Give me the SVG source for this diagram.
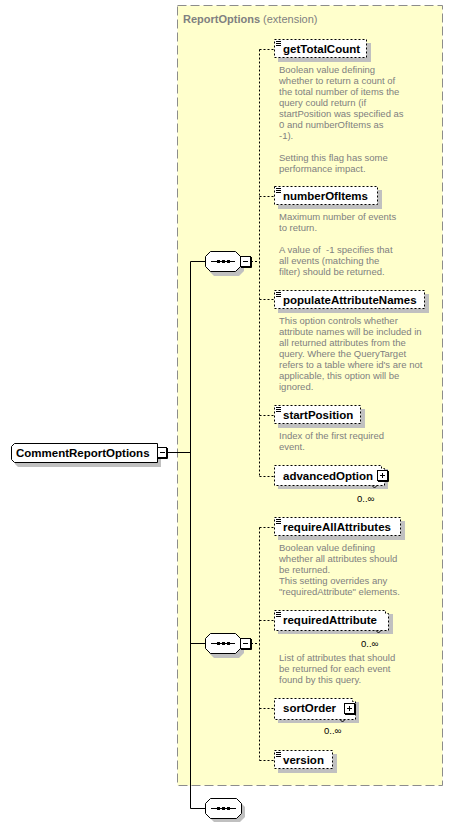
<svg xmlns="http://www.w3.org/2000/svg" width="453" height="828" viewBox="0 0 453 828">
<style>
.name{font-family:"Liberation Sans",Arial,sans-serif;font-weight:bold;font-size:11.5px;fill:#000}
.desc{font-family:"Liberation Sans",Arial,sans-serif;font-size:9.5px;fill:#808080}
.occ{font-family:"Liberation Sans",Arial,sans-serif;font-size:9.5px;fill:#000}
.box{fill:#fff;stroke:#000;stroke-width:1;stroke-dasharray:2,2}
.sbox{fill:#fff;stroke:#000;stroke-width:1}
.shadow{fill:#c0c0c0;stroke:none}
.dash{fill:none;stroke:#000;stroke-width:1;stroke-dasharray:2,2}
.solid{fill:none;stroke:#000;stroke-width:1}
.icon{stroke:#000;stroke-width:1}
</style>
<rect x="177.5" y="5.5" width="265" height="780" fill="#ffffcc" stroke="#8c8c8c" stroke-width="1" stroke-dasharray="9,4"/>
<text x="183" y="23" font-family="Liberation Sans,Arial,sans-serif" font-size="11px" fill="#808080"><tspan font-weight="bold">ReportOptions</tspan> (extension)</text>

<g id="connectors">
<path class="solid" d="M167,452.5 H190.5 M190.5,261.5 V808.5 M190.5,261.5 H205 M190.5,643.5 H205 M190.5,808.5 H205"/>
<path class="dash" d="M251,261.5 H259.5 M259.5,49.5 V476.5 M259.5,49.5 H274 M259.5,196.5 H274 M259.5,299.5 H274 M259.5,415.5 H274 M259.5,476.5 H274"/>
<path class="dash" d="M251,643.5 H259.5 M259.5,527.5 V760.5 M259.5,527.5 H274 M259.5,620.5 H274 M259.5,708.5 H274 M259.5,760.5 H274"/>
</g>

<g id="CommentReportOptions">
<path class="shadow" d="M18,447 H161 V467 H18 L15,464 V450 Z"/>
<path class="sbox" d="M14.5,443.5 H157.5 V462.5 H14.5 L11.5,459.5 V446.5 Z"/>
<text class="name" x="16" y="457">CommentReportOptions</text>
<rect x="157.5" y="447.5" width="9" height="10" fill="#fff" stroke="#000"/>
<path class="solid" d="M167.5,448 V458.5 H158 M160,452.5 H165"/>
</g>

<g id="sequence1">
<path class="shadow" d="M214,255 H239 L244,260 V271 L239,276 H214 L209,271 V260 Z"/>
<path class="sbox" d="M210.5,251.5 H235.5 L240.5,256.5 V266.5 L235.5,271.5 H210.5 L205.5,266.5 V256.5 Z"/>
<path class="solid" d="M211,261.5 H235"/>
<rect x="217" y="260" width="3" height="3" fill="#000"/><rect x="222" y="260" width="3" height="3" fill="#000"/><rect x="227" y="260" width="3" height="3" fill="#000"/>
<rect x="240.5" y="256.5" width="10" height="10" fill="#fff" stroke="#000"/>
<path class="solid" d="M251.5,257 V267.5 H241 M243,261.5 H248"/>
</g>

<g id="sequence2">
<path class="shadow" d="M214,637 H239 L244,642 V653 L239,658 H214 L209,653 V642 Z"/>
<path class="sbox" d="M210.5,633.5 H235.5 L240.5,638.5 V648.5 L235.5,653.5 H210.5 L205.5,648.5 V638.5 Z"/>
<path class="solid" d="M211,643.5 H235"/>
<rect x="217" y="642" width="3" height="3" fill="#000"/><rect x="222" y="642" width="3" height="3" fill="#000"/><rect x="227" y="642" width="3" height="3" fill="#000"/>
<rect x="240.5" y="638.5" width="10" height="10" fill="#fff" stroke="#000"/>
<path class="solid" d="M251.5,639 V649.5 H241 M243,643.5 H248"/>
</g>

<g id="sequence3">
<path class="shadow" d="M214,802 H240 L245,807 V817 L240,822 H214 L209,817 V807 Z"/>
<path class="sbox" d="M210.5,798.5 H236.5 L241.5,803.5 V813.5 L236.5,818.5 H210.5 L205.5,813.5 V803.5 Z"/>
<path class="solid" d="M211,808.5 H236"/>
<rect x="217" y="807" width="3" height="3" fill="#000"/><rect x="222" y="807" width="3" height="3" fill="#000"/><rect x="227" y="807" width="3" height="3" fill="#000"/>
</g>

<g id="getTotalCount">
<rect class="shadow" x="278" y="43" width="93" height="19"/>
<rect class="box" x="274.5" y="39.5" width="92" height="18"/>
<path class="icon" d="M276,41.5 H281 M276,43.5 H281 M276,45.5 H281"/>
<text class="name" x="283" y="53">getTotalCount</text>
<text class="desc" x="279" y="73">Boolean value defining</text>
<text class="desc" x="279" y="84">whether to return a count of</text>
<text class="desc" x="279" y="95">the total number of items the</text>
<text class="desc" x="279" y="106">query could return (if</text>
<text class="desc" x="279" y="117">startPosition was specified as</text>
<text class="desc" x="279" y="128">0 and numberOfItems as</text>
<text class="desc" x="279" y="139">-1).</text>
<text class="desc" x="279" y="161">Setting this flag has some</text>
<text class="desc" x="279" y="172">performance impact.</text>
</g>

<g id="numberOfItems">
<rect class="shadow" x="278" y="190" width="104" height="19"/>
<rect class="box" x="274.5" y="186.5" width="103" height="18"/>
<path class="icon" d="M276,188.5 H281 M276,190.5 H281 M276,192.5 H281"/>
<text class="name" x="283" y="200">numberOfItems</text>
<text class="desc" x="279" y="220">Maximum number of events</text>
<text class="desc" x="279" y="231">to return.</text>
<text class="desc" x="279" y="253" xml:space="preserve">A value of  -1 specifies that</text>
<text class="desc" x="279" y="264">all events (matching the</text>
<text class="desc" x="279" y="275">filter) should be returned.</text>
</g>

<g id="populateAttributeNames">
<rect class="shadow" x="278" y="294" width="151" height="19"/>
<rect class="box" x="274.5" y="290.5" width="150" height="18"/>
<path class="icon" d="M276,292.5 H281 M276,294.5 H281 M276,296.5 H281"/>
<text class="name" x="283" y="304">populateAttributeNames</text>
<text class="desc" x="279" y="324">This option controls whether</text>
<text class="desc" x="279" y="335">attribute names will be included in</text>
<text class="desc" x="279" y="346">all returned attributes from the</text>
<text class="desc" x="279" y="357">query. Where the QueryTarget</text>
<text class="desc" x="279" y="368">refers to a table where id's are not</text>
<text class="desc" x="279" y="379">applicable, this option will be</text>
<text class="desc" x="279" y="390">ignored.</text>
</g>

<g id="startPosition">
<rect class="shadow" x="278" y="409" width="87" height="19"/>
<rect class="box" x="274.5" y="405.5" width="86" height="18"/>
<path class="icon" d="M276,407.5 H281 M276,409.5 H281 M276,411.5 H281"/>
<text class="name" x="283" y="419">startPosition</text>
<text class="desc" x="279" y="439">Index of the first required</text>
<text class="desc" x="279" y="450">event.</text>
</g>

<g id="advancedOption">
<rect class="shadow" x="278" y="469" width="110" height="20"/>
<path class="box" d="M274.5,465.5 H381.5 V468.5 H384.5 V485.5 H274.5 Z"/>
<path class="solid" d="M372,485.5 L374.5,488 L377,485.5"/>
<text class="name" x="283" y="480">advancedOption</text>
<rect x="377.5" y="470.5" width="10" height="10" fill="#fff" stroke="#000"/>
<path class="solid" d="M388.5,471 V481.5 H378 M380,475.5 H385 M382.5,473 V478"/>
<text class="occ" x="357" y="502">0..∞</text>
</g>

<g id="requireAllAttributes">
<rect class="shadow" x="278" y="521" width="127" height="19"/>
<rect class="box" x="274.5" y="517.5" width="126" height="18"/>
<path class="icon" d="M276,519.5 H281 M276,521.5 H281 M276,523.5 H281"/>
<text class="name" x="283" y="531">requireAllAttributes</text>
<text class="desc" x="279" y="551">Boolean value defining</text>
<text class="desc" x="279" y="562">whether all attributes should</text>
<text class="desc" x="279" y="573">be returned.</text>
<text class="desc" x="279" y="584">This setting overrides any</text>
<text class="desc" x="279" y="595">"requiredAttribute" elements.</text>
</g>

<g id="requiredAttribute">
<rect class="shadow" x="278" y="614" width="115" height="20"/>
<path class="box" d="M274.5,610.5 H385.5 V613.5 H388.5 V630.5 H274.5 Z"/>
<path class="solid" d="M376,630.5 L378.5,633 L381,630.5"/>
<path class="icon" d="M276,612.5 H281 M276,614.5 H281 M276,616.5 H281"/>
<text class="name" x="283" y="624">requiredAttribute</text>
<text class="occ" x="361" y="647">0..∞</text>
<text class="desc" x="279" y="661">List of attributes that should</text>
<text class="desc" x="279" y="672">be returned for each event</text>
<text class="desc" x="279" y="683">found by this query.</text>
</g>

<g id="sortOrder">
<rect class="shadow" x="278" y="702" width="81" height="21"/>
<path class="box" d="M274.5,698.5 H352.5 V701.5 H355.5 V719.5 H274.5 Z"/>
<path class="solid" d="M340,719.5 L342.5,722 L345,719.5"/>
<text class="name" x="283" y="712">sortOrder</text>
<rect x="344.5" y="703.5" width="10" height="10" fill="#fff" stroke="#000"/>
<path class="solid" d="M355.5,704 V714.5 H345 M347,708.5 H352 M349.5,706 V711"/>
<text class="occ" x="324" y="734">0..∞</text>
</g>

<g id="version">
<rect class="shadow" x="278" y="754" width="59" height="19"/>
<rect class="box" x="274.5" y="750.5" width="58" height="18"/>
<path class="icon" d="M276,752.5 H281 M276,754.5 H281 M276,756.5 H281"/>
<text class="name" x="283" y="764">version</text>
</g>
</svg>
